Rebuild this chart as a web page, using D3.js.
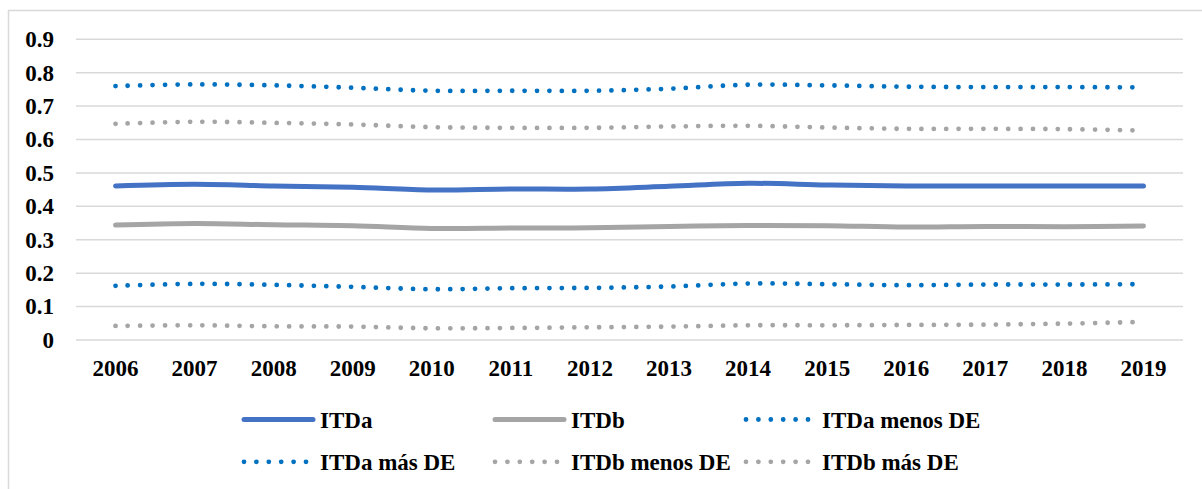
<!DOCTYPE html>
<html>
<head>
<meta charset="utf-8">
<script src="https://cdn.jsdelivr.net/npm/d3@7"></script>
<style>
  body { margin: 0; background: #fff; }
  svg { display: block; }
  text { font-family: "Liberation Serif", "Times New Roman", serif; font-weight: bold; fill: #000; }
</style>
</head>
<body>
<div id="chart"></div>
<script>
// data
var years = ["2006","2007","2008","2009","2010","2011","2012","2013","2014","2015","2016","2017","2018","2019"];
var itda      = [0.461,0.466,0.461,0.457,0.449,0.452,0.452,0.460,0.469,0.464,0.461,0.461,0.461,0.461];
var itdb      = [0.344,0.349,0.345,0.342,0.334,0.335,0.336,0.340,0.343,0.342,0.338,0.340,0.339,0.341];
var itdaMenos = [0.162,0.168,0.165,0.159,0.152,0.155,0.156,0.160,0.169,0.167,0.164,0.166,0.166,0.167];
var itdaMas   = [0.760,0.765,0.762,0.755,0.746,0.746,0.746,0.752,0.764,0.762,0.758,0.757,0.757,0.756];
var itdbMenos = [0.042,0.044,0.041,0.040,0.035,0.036,0.038,0.040,0.044,0.044,0.045,0.046,0.049,0.054];
var itdbMas   = [0.647,0.653,0.650,0.645,0.637,0.635,0.635,0.639,0.641,0.636,0.632,0.632,0.631,0.627];
var yTicks = [0,0.1,0.2,0.3,0.4,0.5,0.6,0.7,0.8,0.9];

var series = [
  {name: "ITDa", values: itda, color: "#4472C4", dotted: false},
  {name: "ITDb", values: itdb, color: "#A5A5A5", dotted: false},
  {name: "ITDa menos DE", values: itdaMenos, color: "#0070C0", dotted: true},
  {name: "ITDa más DE", values: itdaMas, color: "#0070C0", dotted: true},
  {name: "ITDb menos DE", values: itdbMenos, color: "#A5A5A5", dotted: true},
  {name: "ITDb más DE", values: itdbMas, color: "#A5A5A5", dotted: true}
];

var W = 1202, H = 489;
var plotLeft = 76, plotRight = 1183, plotTop = 39.3, plotBottom = 340;

var svg = d3.select("#chart").append("svg")
    .attr("width", W)
    .attr("height", H);

// outer chart border
svg.append("rect")
    .attr("x", 8.5).attr("y", 10.5)
    .attr("width", 1300).attr("height", 600)
    .attr("fill", "none")
    .attr("stroke", "#d9d9d9")
    .attr("stroke-width", 1.5);

var x = d3.scalePoint()
    .domain(years)
    .range([plotLeft, plotRight])
    .padding(0.5);

var y = d3.scaleLinear()
    .domain([0, 0.9])
    .range([plotBottom, plotTop]);

// gridlines
svg.append("g")
    .selectAll("line")
    .data(yTicks)
    .enter()
    .append("line")
    .attr("x1", plotLeft).attr("x2", plotRight)
    .attr("y1", function(d) { return y(d); })
    .attr("y2", function(d) { return y(d); })
    .attr("stroke", "#d9d9d9")
    .attr("stroke-width", 1.5);

// y labels
svg.append("g")
    .selectAll("text")
    .data(yTicks)
    .enter()
    .append("text")
    .attr("x", 54)
    .attr("y", function(d) { return y(d); })
    .attr("dy", "0.34em")
    .attr("text-anchor", "end")
    .style("font-size", "23px")
    .text(function(d) { return d === 0 ? "0" : d3.format(".1f")(d); });

// x labels
svg.append("g")
    .selectAll("text")
    .data(years)
    .enter()
    .append("text")
    .attr("x", function(d) { return x(d); })
    .attr("y", 376)
    .attr("text-anchor", "middle")
    .style("font-size", "23px")
    .text(function(d) { return d; });

var line = d3.line()
    .x(function(d, i) { return x(years[i]); })
    .y(function(d) { return y(d); })
    .curve(d3.curveCatmullRom.alpha(0.5));

function styleLine(sel, s) {
  sel.attr("fill", "none")
     .attr("stroke", s.color)
     .attr("stroke-linecap", "round")
     .attr("stroke-linejoin", "round");
  if (s.dotted) {
    sel.attr("stroke-width", 4.8).attr("stroke-dasharray", "0 12.4");
  } else {
    sel.attr("stroke-width", 5);
  }
}

series.forEach(function(s) {
  svg.append("path")
     .attr("d", line(s.values))
     .call(styleLine, s);
});

// legend
var legend = svg.append("g");
series.forEach(function(s, i) {
  var col = i % 3, row = Math.floor(i / 3);
  var lx = 244 + col * 251;
  var ly = 419.5 + row * 42.3;
  legend.append("path")
     .attr("d", "M" + lx + "," + ly + "H" + (lx + 69))
     .call(styleLine, s);
  legend.append("text")
     .attr("x", lx + 76)
     .attr("y", ly + 8)
     .style("font-size", "23px")
     .text(s.name);
});
</script>
</body>
</html>
